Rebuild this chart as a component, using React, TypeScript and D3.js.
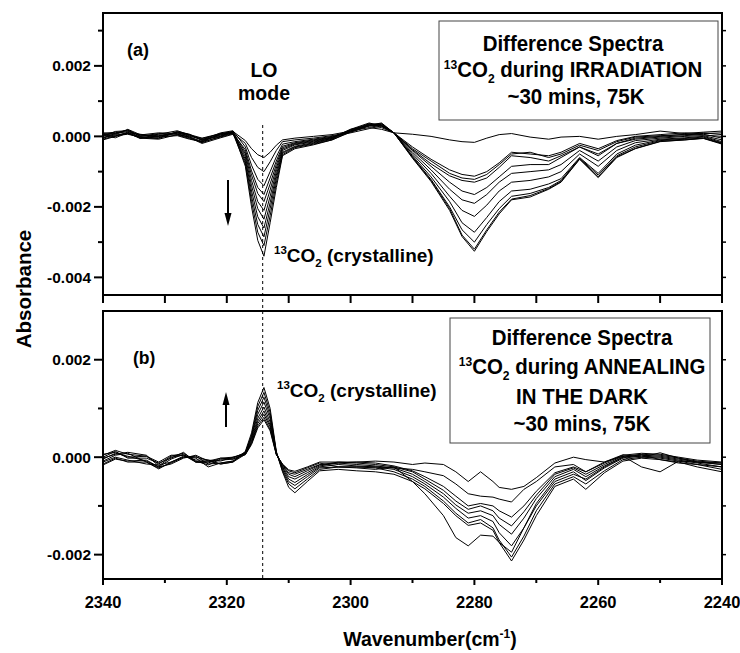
import React from 'react';
import * as d3 from 'd3';

// Absorbance values are stored in units of 10^-3
const WN_TOP = [2340, 2338, 2336, 2334, 2331, 2328, 2326, 2324, 2321, 2319, 2317, 2316, 2315, 2314, 2313, 2312, 2311, 2309, 2306, 2303, 2300, 2297, 2295, 2293, 2290, 2287, 2284, 2282, 2280, 2278, 2276, 2274, 2271, 2268, 2266, 2263, 2260, 2257, 2254, 2250, 2246, 2243, 2240];

const irr1 = [0.05, 0.1, 0.18, 0.02, 0.0, 0.12, 0.05, -0.05, 0.08, 0.14, -0.12, -0.35, -0.52, -0.6, -0.45, -0.25, -0.1, -0.05, 0.0, 0.05, 0.15, 0.25, 0.2, 0.1, 0.06, 0.0, -0.1, -0.15, -0.17, -0.05, 0.05, 0.08, -0.02, -0.08, -0.02, 0.0, -0.08, 0.0, 0.05, 0.15, 0.08, 0.12, 0.15];
const irr2 = [-0.1, 0.0, 0.12, -0.05, -0.08, 0.05, -0.02, -0.18, 0.0, 0.1, -0.2, -0.6, -0.88, -1.0, -0.72, -0.4, -0.15, -0.1, -0.05, 0.02, 0.12, 0.3, 0.25, 0.1, -0.3, -0.65, -0.95, -1.08, -1.13, -1.0, -0.75, -0.45, -0.5, -0.55, -0.45, -0.2, -0.35, -0.12, 0.0, 0.05, 0.1, 0.08, 0.1];
const irr3 = [0.08, 0.12, 0.08, 0.0, 0.06, 0.16, 0.04, -0.1, 0.1, 0.16, -0.3, -0.82, -1.22, -1.4, -1.0, -0.58, -0.22, -0.15, -0.08, 0.0, 0.1, 0.22, 0.3, 0.1, -0.35, -0.7, -1.05, -1.18, -1.22, -1.08, -0.8, -0.5, -0.45, -0.6, -0.5, -0.25, -0.4, -0.15, -0.02, 0.02, 0.05, 0.1, 0.05];
const irr4 = [-0.05, 0.05, 0.2, 0.05, -0.02, 0.02, -0.08, -0.15, -0.02, 0.08, -0.38, -0.98, -1.45, -1.65, -1.18, -0.7, -0.28, -0.18, -0.1, -0.02, 0.15, 0.35, 0.28, 0.1, -0.38, -0.78, -1.12, -1.25, -1.3, -1.18, -0.88, -0.55, -0.6, -0.7, -0.55, -0.3, -0.5, -0.2, -0.05, 0.0, 0.06, 0.04, 0.0];
const irr5 = [0.02, -0.04, 0.1, -0.06, 0.02, 0.1, 0.02, -0.06, 0.06, 0.12, -0.45, -1.1, -1.62, -1.85, -1.35, -0.8, -0.32, -0.2, -0.12, -0.03, 0.18, 0.3, 0.35, 0.1, -0.4, -0.85, -1.3, -1.55, -1.65, -1.45, -1.15, -0.85, -0.8, -0.8, -0.6, -0.3, -0.55, -0.2, -0.08, -0.02, 0.02, 0.06, -0.05];
const irr6 = [0.1, 0.08, 0.14, 0.04, 0.1, 0.08, -0.04, -0.2, -0.04, 0.06, -0.5, -1.25, -1.85, -2.1, -1.52, -0.9, -0.36, -0.22, -0.14, -0.04, 0.2, 0.38, 0.3, 0.1, -0.45, -0.95, -1.5, -1.8, -1.9, -1.65, -1.3, -1.05, -1.0, -0.95, -0.8, -0.4, -0.7, -0.3, -0.12, -0.05, 0.0, 0.02, -0.1];
const irr7 = [-0.08, 0.02, 0.06, -0.02, -0.04, 0.14, 0.06, -0.12, 0.04, 0.14, -0.58, -1.4, -2.05, -2.35, -1.7, -1.0, -0.4, -0.24, -0.16, -0.06, 0.2, 0.32, 0.38, 0.1, -0.5, -1.05, -1.7, -2.1, -2.27, -1.95, -1.55, -1.3, -1.25, -1.15, -1.0, -0.5, -0.85, -0.4, -0.18, -0.08, -0.04, 0.0, -0.15];
const irr8 = [0.0, 0.14, 0.16, -0.04, 0.04, 0.04, -0.06, -0.16, 0.08, 0.1, -0.65, -1.55, -2.28, -2.6, -1.88, -1.1, -0.45, -0.28, -0.18, -0.06, 0.18, 0.36, 0.3, 0.1, -0.55, -1.15, -1.85, -2.45, -2.72, -2.3, -1.85, -1.55, -1.5, -1.35, -1.2, -0.6, -1.05, -0.5, -0.25, -0.1, -0.06, -0.02, -0.18];
const irr9 = [0.04, 0.0, 0.1, 0.06, 0.0, 0.1, 0.0, -0.08, 0.02, 0.12, -0.72, -1.7, -2.5, -2.85, -2.05, -1.2, -0.48, -0.3, -0.2, -0.08, 0.16, 0.3, 0.32, 0.1, -0.58, -1.22, -2.0, -2.65, -3.0, -2.5, -2.05, -1.7, -1.62, -1.45, -1.25, -0.62, -1.1, -0.55, -0.3, -0.12, -0.08, -0.05, -0.2];
const irr10 = [-0.04, 0.08, 0.18, 0.0, 0.08, 0.06, -0.02, -0.14, 0.06, 0.08, -0.78, -1.85, -2.72, -3.1, -2.25, -1.32, -0.52, -0.32, -0.22, -0.1, 0.14, 0.34, 0.36, 0.1, -0.6, -1.25, -2.05, -2.8, -3.2, -2.65, -2.15, -1.78, -1.68, -1.48, -1.28, -0.64, -1.15, -0.58, -0.34, -0.14, -0.1, -0.06, -0.22];
const irr11 = [0.06, 0.04, 0.08, -0.04, -0.06, 0.12, 0.04, -0.1, 0.0, 0.14, -0.85, -2.0, -2.95, -3.4, -2.45, -1.45, -0.55, -0.35, -0.24, -0.1, 0.12, 0.3, 0.34, 0.1, -0.62, -1.28, -2.1, -2.84, -3.26, -2.7, -2.2, -1.8, -1.72, -1.5, -1.3, -0.65, -1.17, -0.6, -0.35, -0.15, -0.1, -0.05, -0.2];
const IRRADIATION = [irr1, irr2, irr3, irr4, irr5, irr6, irr7, irr8, irr9, irr10, irr11];

const WN_BOT = [2340, 2338, 2336, 2333, 2331, 2329, 2327, 2325, 2323, 2321, 2319, 2317, 2316, 2315, 2314, 2313, 2312, 2311, 2310, 2309, 2307, 2305, 2302, 2299, 2296, 2293, 2290, 2288, 2285, 2283, 2281, 2279, 2277, 2276, 2274, 2272, 2270, 2267, 2264, 2262, 2259, 2256, 2253, 2250, 2247, 2244, 2240];

const ann1 = [-0.14, -0.02, -0.1, -0.1, -0.22, -0.12, 0.0, 0.0, -0.06, -0.14, -0.1, 0.12, 0.5, 1.12, 1.43, 1.0, 0.12, -0.3, -0.62, -0.73, -0.5, -0.28, -0.25, -0.28, -0.3, -0.35, -0.5, -0.65, -0.95, -1.2, -1.4, -1.35, -1.5, -1.75, -2.13, -1.7, -1.2, -0.6, -0.45, -0.66, -0.32, -0.08, -0.02, -0.05, -0.1, -0.2, -0.3];
const ann2 = [0.04, 0.14, 0.06, 0.02, -0.14, 0.02, 0.08, -0.08, -0.16, -0.04, -0.02, 0.1, 0.45, 1.04, 1.33, 0.92, 0.1, -0.28, -0.55, -0.65, -0.45, -0.25, -0.2, -0.22, -0.25, -0.2, -0.5, -0.75, -1.2, -1.65, -1.82, -1.6, -1.62, -1.75, -1.95, -1.45, -1.0, -0.5, -0.35, -0.45, -0.2, 0.0, 0.05, -0.05, -0.12, -0.15, -0.2];
const ann3 = [-0.08, 0.04, 0.08, -0.1, -0.24, -0.1, 0.02, -0.02, -0.2, -0.12, -0.08, 0.1, 0.42, 0.96, 1.23, 0.85, 0.1, -0.25, -0.5, -0.58, -0.4, -0.22, -0.2, -0.2, -0.22, -0.3, -0.45, -0.6, -0.9, -1.15, -1.35, -1.28, -1.45, -1.7, -2.05, -1.62, -1.1, -0.55, -0.4, -0.55, -0.28, -0.05, 0.0, -0.02, -0.08, -0.15, -0.25];
const ann4 = [0.0, 0.12, -0.02, -0.02, -0.12, -0.02, 0.1, -0.1, -0.08, -0.02, 0.0, 0.08, 0.4, 0.88, 1.13, 0.79, 0.08, -0.22, -0.45, -0.52, -0.36, -0.2, -0.15, -0.18, -0.2, -0.25, -0.4, -0.55, -0.82, -1.05, -1.25, -1.2, -1.32, -1.55, -1.82, -1.45, -0.95, -0.45, -0.3, -0.48, -0.22, -0.02, 0.02, 0.0, -0.06, -0.12, -0.2];
const ann5 = [-0.1, 0.0, -0.06, -0.14, -0.16, -0.1, 0.0, 0.02, -0.14, -0.12, -0.08, 0.08, 0.36, 0.8, 1.03, 0.72, 0.08, -0.2, -0.4, -0.45, -0.32, -0.18, -0.12, -0.15, -0.18, -0.22, -0.35, -0.5, -0.75, -0.98, -1.15, -1.1, -1.2, -1.38, -1.58, -1.25, -0.85, -0.4, -0.25, -0.4, -0.18, 0.0, 0.04, 0.02, -0.04, -0.1, -0.15];
const ann6 = [-0.02, 0.06, 0.1, 0.04, -0.18, 0.0, 0.04, -0.1, -0.12, -0.02, -0.04, 0.07, 0.33, 0.74, 0.95, 0.66, 0.07, -0.18, -0.35, -0.4, -0.28, -0.16, -0.1, -0.12, -0.15, -0.2, -0.3, -0.45, -0.68, -0.9, -1.07, -1.0, -1.1, -1.25, -1.41, -1.12, -0.78, -0.35, -0.22, -0.35, -0.15, 0.02, 0.06, 0.04, -0.02, -0.08, -0.12];
const ann7 = [-0.16, -0.04, -0.08, -0.06, -0.2, -0.14, -0.02, 0.04, -0.08, -0.14, -0.1, 0.06, 0.3, 0.69, 0.88, 0.62, 0.06, -0.16, -0.32, -0.35, -0.25, -0.15, -0.12, -0.1, -0.12, -0.18, -0.28, -0.4, -0.6, -0.8, -1.0, -0.95, -1.0, -1.1, -1.23, -1.0, -0.7, -0.32, -0.2, -0.3, -0.12, 0.04, 0.08, 0.06, 0.0, -0.06, -0.1];
const ann8 = [0.06, 0.1, 0.0, 0.02, -0.1, 0.04, 0.04, -0.06, -0.06, -0.08, 0.0, 0.06, 0.28, 0.64, 0.82, 0.57, 0.06, -0.15, -0.28, -0.32, -0.22, -0.12, -0.2, -0.2, -0.2, -0.22, -0.25, -0.3, -0.38, -0.55, -0.75, -0.8, -0.82, -0.86, -0.92, -0.66, -0.5, -0.2, -0.15, -0.3, -0.1, 0.05, 0.0, 0.09, -0.02, -0.1, -0.15];
const ann9 = [-0.04, 0.08, 0.02, -0.08, -0.2, -0.04, 0.06, -0.1, -0.1, -0.06, -0.04, 0.05, 0.26, 0.6, 0.77, 0.54, 0.05, -0.14, -0.26, -0.29, -0.2, -0.1, -0.1, -0.1, -0.08, -0.1, -0.15, -0.12, -0.15, -0.3, -0.5, -0.3, -0.5, -0.62, -0.66, -0.6, -0.42, -0.12, 0.0, -0.05, -0.1, 0.02, -0.2, -0.3, -0.08, -0.1, -0.12];
const ANNEALING = [ann1, ann2, ann3, ann4, ann5, ann6, ann7, ann8, ann9];

const X_MAJOR = [2340, 2320, 2300, 2280, 2260, 2240];
const X_MINOR = [2330, 2310, 2290, 2270, 2250];
const TOP_MAJOR = [-4, -2, 0, 2];
const TOP_ALL = [-4, -3, -2, -1, 0, 1, 2, 3];
const BOT_MAJOR = [-2, 0, 2];
const BOT_ALL = [-2, -1, 0, 1, 2];
const LO_POSITION = 2314.2;

const FONT = 'Liberation Sans, Arial, Helvetica, sans-serif';

function BoxLine({ cx, y, children }: { cx: number; y: number; children: React.ReactNode }) {
  return (
    <g transform={`translate(${cx},${y}) scale(0.93,1)`}>
      <text x={0} y={0} textAnchor="middle" fontSize={22} fontWeight="bold">{children}</text>
    </g>
  );
}

export default function App() {
  const x = d3.scaleLinear().domain([2340, 2240]).range([103, 722]);
  const yT = d3.scaleLinear().domain([-4.5, 3.5]).range([295, 13]);
  const yB = d3.scaleLinear().domain([-2.5, 3.0]).range([579, 311]);
  const fmt = (v: number) => (v / 1000).toFixed(3);

  const lineT = d3.line<number>().x((_, i) => x(WN_TOP[i])).y((d) => yT(d));
  const lineB = d3.line<number>().x((_, i) => x(WN_BOT[i])).y((d) => yB(d));

  const xL = x(2340), xR = x(2240);
  const dashX = x(LO_POSITION);

  const co2 = (tail: string) => (
    <>
      <tspan fontSize={13} dy={-8}>13</tspan><tspan dy={8}>CO</tspan><tspan fontSize={13} dy={6}>2</tspan><tspan dy={-6}>{tail}</tspan>
    </>
  );

  return (
    <svg width={740} height={653} style={{ position: 'absolute', left: 0, top: 0, background: '#fff' }} fontFamily={FONT}>
      <defs>
        <clipPath id="clipT"><rect x={xL} y={yT(3.5)} width={xR - xL} height={yT(-4.5) - yT(3.5)} /></clipPath>
        <clipPath id="clipB"><rect x={xL} y={yB(3.0)} width={xR - xL} height={yB(-2.5) - yB(3.0)} /></clipPath>
      </defs>
      <rect x={0} y={0} width={740} height={653} fill="#fff" />

      {/* spectra */}
      <g clipPath="url(#clipT)" fill="none" stroke="#000" strokeWidth={1}>
        {IRRADIATION.map((s, i) => <path key={i} d={lineT(s) || ''} />)}
      </g>
      <g clipPath="url(#clipB)" fill="none" stroke="#000" strokeWidth={1}>
        {ANNEALING.map((s, i) => <path key={i} d={lineB(s) || ''} />)}
      </g>

      {/* dashed LO line */}
      <line x1={dashX} x2={dashX} y1={125} y2={yB(-2.5)} stroke="#000" strokeWidth={1} strokeDasharray="3,3" />

      {/* frames */}
      <rect x={xL} y={yT(3.5)} width={xR - xL} height={yT(-4.5) - yT(3.5)} fill="none" stroke="#000" strokeWidth={2} />
      <rect x={xL} y={yB(3.0)} width={xR - xL} height={yB(-2.5) - yB(3.0)} fill="none" stroke="#000" strokeWidth={2} />

      {/* y ticks */}
      {TOP_ALL.map((v) => {
        const major = TOP_MAJOR.includes(v);
        return <line key={'lt' + v} x1={xL} x2={xL - (major ? 9 : 5)} y1={yT(v)} y2={yT(v)} stroke="#000" strokeWidth={2} />;
      })}
      {TOP_ALL.map((v) => <line key={'rt' + v} x1={xR} x2={xR + 4} y1={yT(v)} y2={yT(v)} stroke="#000" strokeWidth={1.5} />)}
      {TOP_MAJOR.map((v) => (
        <text key={'tl' + v} x={91} y={yT(v) + 5.5} textAnchor="end" fontSize={15.5} fontWeight="bold">{fmt(v)}</text>
      ))}
      {BOT_ALL.map((v) => {
        const major = BOT_MAJOR.includes(v);
        return <line key={'lb' + v} x1={xL} x2={xL - (major ? 9 : 5)} y1={yB(v)} y2={yB(v)} stroke="#000" strokeWidth={2} />;
      })}
      {BOT_ALL.map((v) => <line key={'rb' + v} x1={xR} x2={xR + 4} y1={yB(v)} y2={yB(v)} stroke="#000" strokeWidth={1.5} />)}
      {BOT_MAJOR.map((v) => (
        <text key={'bl' + v} x={91} y={yB(v) + 5.5} textAnchor="end" fontSize={15.5} fontWeight="bold">{fmt(v)}</text>
      ))}

      {/* x ticks */}
      {[...X_MAJOR, ...X_MINOR].map((w) => (
        <line key={'xt' + w} x1={x(w)} x2={x(w)} y1={yT(-4.5)} y2={yT(-4.5) + 8} stroke="#000" strokeWidth={2} />
      ))}
      {[...X_MAJOR, ...X_MINOR].map((w) => (
        <line key={'xb' + w} x1={x(w)} x2={x(w)} y1={yB(-2.5)} y2={yB(-2.5) + (X_MAJOR.includes(w) ? 6 : 4)} stroke="#000" strokeWidth={2} />
      ))}
      {X_MAJOR.map((w) => (
        <text key={'xl' + w} x={x(w)} y={608} textAnchor="middle" fontSize={16.5} fontWeight="bold">{w}</text>
      ))}

      {/* axis titles */}
      <text transform="translate(31,289) rotate(-90)" textAnchor="middle" fontSize={20.5} fontWeight="bold">Absorbance</text>
      <text x={430} y={646} textAnchor="middle" fontSize={19.5} fontWeight="bold">
        Wavenumber(cm<tspan fontSize={12} dy={-8}>-1</tspan><tspan dy={8}>)</tspan>
      </text>

      {/* panel labels */}
      <text x={127} y={56} fontSize={18} fontWeight="bold">(a)</text>
      <text x={133} y={364} fontSize={17.5} fontWeight="bold">(b)</text>
      <text x={264} y={77} textAnchor="middle" fontSize={19.5} fontWeight="bold">LO</text>
      <text x={264} y={100} textAnchor="middle" fontSize={19.5} fontWeight="bold">mode</text>

      <text x={274} y={262} fontSize={19} fontWeight="bold">
        <tspan fontSize={11.5} dy={-8}>13</tspan><tspan dy={8}>CO</tspan><tspan fontSize={11.5} dy={5}>2</tspan><tspan dy={-5}> (crystalline)</tspan>
      </text>
      <text x={277} y={397} fontSize={19} fontWeight="bold">
        <tspan fontSize={11.5} dy={-8}>13</tspan><tspan dy={8}>CO</tspan><tspan fontSize={11.5} dy={5}>2</tspan><tspan dy={-5}> (crystalline)</tspan>
      </text>

      {/* arrows */}
      <line x1={228} x2={228} y1={180} y2={214} stroke="#000" strokeWidth={2} />
      <path d="M224.5,213 L231.5,213 L228,226 Z" fill="#000" />
      <line x1={226} x2={226} y1={427} y2={404} stroke="#000" strokeWidth={2} />
      <path d="M222.5,405 L229.5,405 L226,392 Z" fill="#000" />

      {/* legend boxes */}
      <rect x={439} y={21} width={279} height={99} fill="#fff" stroke="#444" strokeWidth={1} />
      <BoxLine cx={573} y={51}>Difference Spectra</BoxLine>
      <BoxLine cx={573} y={77}>{co2(' during IRRADIATION')}</BoxLine>
      <BoxLine cx={576} y={104}>~30 mins, 75K</BoxLine>

      <rect x={450} y={318} width={260} height={125} fill="#fff" stroke="#444" strokeWidth={1} />
      <BoxLine cx={582} y={345}>Difference Spectra</BoxLine>
      <BoxLine cx={582} y={374}>{co2(' during ANNEALING')}</BoxLine>
      <BoxLine cx={582} y={404}>IN THE DARK</BoxLine>
      <BoxLine cx={582} y={431}>~30 mins, 75K</BoxLine>
    </svg>
  );
}
